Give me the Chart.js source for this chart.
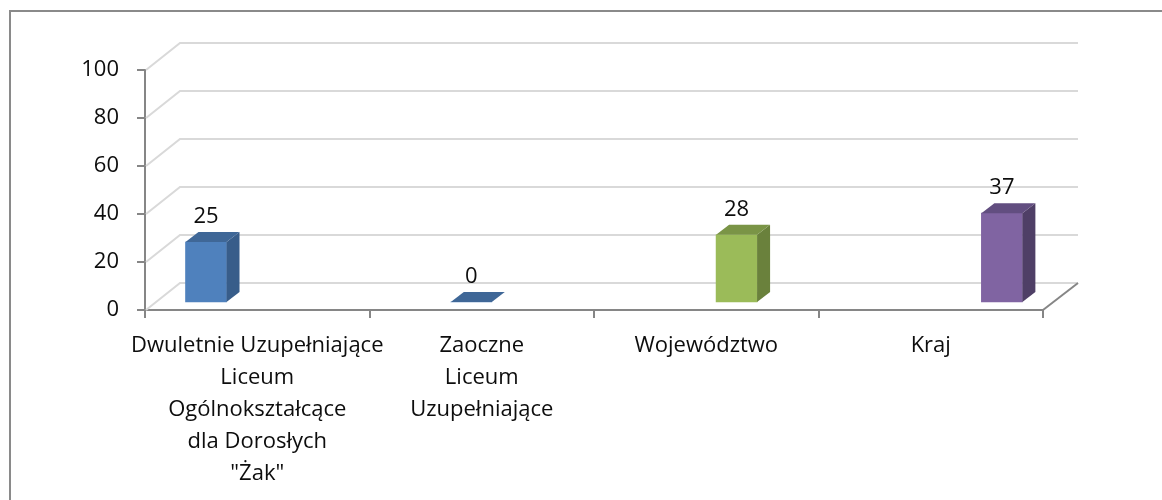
<!DOCTYPE html>
<html>
<head>
<meta charset="utf-8">
<script src="https://cdn.jsdelivr.net/npm/chart.js@4/dist/chart.umd.min.js"></script>
<style>
  html, body { margin: 0; padding: 0; background: #fff; }
  #wrap { width: 1162px; height: 500px; }
</style>
</head>
<body>
<div id="wrap"><canvas id="chart" width="1162" height="500"></canvas></div>
<script>
// ---- data ----
const categories = [
  ['Dwuletnie Uzupełniające', 'Liceum', 'Ogólnokształcące', 'dla Dorosłych', '"Żak"'],
  ['Zaoczne', 'Liceum', 'Uzupełniające'],
  'Województwo',
  'Kraj'
];
const values = [25, 0, 28, 37];
const yTicks = [0, 20, 40, 60, 80, 100];

// ---- styles ----
const frontColors = ['#4F81BD', '#4F81BD', '#9BBB59', '#8064A2'];
const sideColors  = ['#385D8A', '#385D8A', '#6A813C', '#4F3F66'];
const topColors   = ['#3F6797', '#3F6797', '#7A9446', '#624E80'];
const FONT = { family: '"Open Sans", sans-serif', size: 22, lineHeight: 1.45 };
const TEXT = '#0d0d0d';
const AXIS = '#868686';
const GRID = '#D9D9D9';
const DEPTH = { dx: 35, dy: 27 };     // back wall offset
const BAR_DEPTH = { dx: 13, dy: 10 }; // bar side/top offset

// back wall + side wall grid, floor edge
const wallPlugin = {
  id: 'wall',
  beforeDraw(chart) {
    const ctx = chart.ctx;
    ctx.save();
    ctx.strokeStyle = '#8a8a8a';
    ctx.lineWidth = 2;
    ctx.strokeRect(10, 11, 1400, 800);
    ctx.restore();
  },
  beforeDatasetsDraw(chart) {
    const { ctx, chartArea: a, scales: { y } } = chart;
    ctx.save();
    ctx.strokeStyle = GRID;
    ctx.lineWidth = 2;
    yTicks.forEach(v => {
      const py = y.getPixelForValue(v);
      ctx.beginPath();
      ctx.moveTo(a.left + 1, py);
      ctx.lineTo(a.left + DEPTH.dx, py - DEPTH.dy);
      ctx.lineTo(a.right + DEPTH.dx, py - DEPTH.dy);
      ctx.stroke();
    });
    ctx.strokeStyle = AXIS;
    ctx.beginPath();
    ctx.moveTo(a.right, a.bottom);
    ctx.lineTo(a.right + DEPTH.dx, a.bottom - DEPTH.dy);
    ctx.stroke();
    ctx.restore();
  }
};

// side + top faces of the bars, value labels
const boxPlugin = {
  id: 'box',
  afterDatasetsDraw(chart) {
    const ctx = chart.ctx;
    const meta = chart.getDatasetMeta(0);
    ctx.save();
    meta.data.forEach((bar, i) => {
      const { x, y, base, width } = bar.getProps(['x', 'y', 'base', 'width'], true);
      const l = x - width / 2, r = x + width / 2;
      const { dx, dy } = BAR_DEPTH;
      ctx.fillStyle = sideColors[i];
      ctx.beginPath();
      ctx.moveTo(r, y); ctx.lineTo(r + dx, y - dy); ctx.lineTo(r + dx, base - dy); ctx.lineTo(r, base);
      ctx.closePath(); ctx.fill();
      ctx.fillStyle = topColors[i];
      ctx.beginPath();
      ctx.moveTo(l, y); ctx.lineTo(l + dx, y - dy); ctx.lineTo(r + dx, y - dy); ctx.lineTo(r, y);
      ctx.closePath(); ctx.fill();

      ctx.fillStyle = TEXT;
      ctx.font = `${FONT.size}px ${FONT.family}`;
      ctx.textAlign = 'center';
      ctx.textBaseline = 'bottom';
      ctx.fillText(String(values[i]), x, y - dy - 4);
    });
    ctx.restore();
  }
};

new Chart(document.getElementById('chart'), {
  type: 'bar',
  data: {
    labels: categories,
    datasets: [{
      data: values.map((v, i) => ({ x: i, y: v })),
      xAxisID: 'xb',
      yAxisID: 'yb',
      backgroundColor: frontColors,
      borderWidth: 0,
      barThickness: 41
    }]
  },
  options: {
    responsive: false,
    animation: false,
    devicePixelRatio: 1,
    layout: { padding: { left: 0, right: 119, top: 70, bottom: 0 } },
    plugins: { legend: { display: false }, tooltip: { enabled: false } },
    scales: {
      x: {
        type: 'category',
        position: 'bottom',
        offset: true,
        grid: { offset: true, drawOnChartArea: false, color: AXIS, lineWidth: 2, tickLength: 8 },
        border: { color: AXIS, width: 2 },
        ticks: { font: FONT, color: TEXT, padding: 12, maxRotation: 0, autoSkip: false },
        afterFit(s) { s.height = 190; }
      },
      y: {
        min: 0, max: 100,
        afterBuildTicks(s) { s.ticks = yTicks.map(v => ({ value: v })); },
        grid: { drawOnChartArea: false, color: AXIS, lineWidth: 2, tickLength: 8 },
        border: { color: AXIS, width: 2 },
        ticks: { font: { ...FONT, lineHeight: 1.2 }, color: TEXT, padding: 18 },
        afterFit(s) { s.width = 145; }
      },
      xb: { type: 'linear', display: false, offset: false, min: -0.23, max: 3.155 },
      yb: { type: 'linear', display: false, min: -10 / 3, max: 100 - 10 / 3 }
    }
  },
  plugins: [wallPlugin, boxPlugin]
});
</script>
</body>
</html>
